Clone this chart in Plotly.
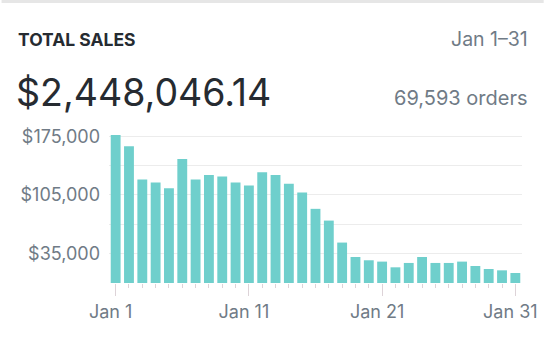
import plotly.graph_objects as go

days = list(range(1, 32))
sales = [176500, 163000, 123400, 119800, 113000, 147700, 123400, 128600, 127000, 119800,
         116200, 132100, 128600, 118200, 107900, 88400, 74400, 48200, 31000, 27100,
         25500, 18700, 23900, 31000, 23900, 23900, 25500, 20300, 16700, 15100, 11900]
y_tickvals = [0, 35000, 70000, 105000, 140000, 175000]
y_ticktext = ["", "$35,000", "", "$105,000", "", "$175,000"]
x_tickvals = [1, 11, 21, 31]
x_ticktext = ["Jan 1", "Jan 11", "Jan 21", "Jan 31"]

W, H = 550, 354
L, R, T, B = 109, 22, 132, 71
FONT = "Inter, 'Noto Sans', sans-serif"
DARK = "#262b31"
GRAY = "#707b86"


def px(x):
    return (x - L) / (W - L - R)


def py(y):
    return (H - B - y) / (H - T - B)


fig = go.Figure(go.Bar(x=days, y=sales, marker=dict(color="#6fcfcc", line=dict(width=0)),
                       width=0.74))

fig.update_layout(
    width=W, height=H, margin=dict(l=L, r=R, t=T, b=B),
    paper_bgcolor="white", plot_bgcolor="white", showlegend=False,
    font=dict(family=FONT, color=GRAY),
    xaxis=dict(range=[0.5, 31.5], tickvals=x_tickvals, ticktext=x_ticktext,
               ticks="outside", ticklen=12, tickwidth=1, tickcolor="#ddd3d8",
               minor=dict(tick0=1, dtick=1, ticks="outside", ticklen=4, tickcolor="#ddd3d8", tickwidth=1),
               showgrid=False, zeroline=False, showline=False, ticklabelshift=-5,
               tickfont=dict(size=18, color=GRAY, family=FONT)),
    yaxis=dict(range=[0, 180000], tickvals=y_tickvals, ticktext=y_ticktext,
               showgrid=True, gridcolor="#ececec", gridwidth=1, zeroline=False,
               ticks="", tickfont=dict(size=18, color=GRAY, family=FONT), ticklabelstandoff=8),
)

anns = [
    dict(text="<b>TOTAL SALES</b>", x=px(15), y=py(39.5), xanchor="left", size=17.5, color=DARK),
    dict(text="Jan 1–31", x=px(536), y=py(38.5), xanchor="right", size=19.5, color=GRAY),
    dict(text="$2,448,046.14", x=px(13), y=py(92.5), xanchor="left", size=37.5, color=DARK),
    dict(text="69,593 orders", x=px(536), y=py(97.5), xanchor="right", size=20, color=GRAY),
]
for a in anns:
    fig.add_annotation(text=a["text"], x=a["x"], y=a["y"], xref="paper", yref="paper",
                       xanchor=a["xanchor"], yanchor="middle", showarrow=False,
                       font=dict(size=a["size"], color=a["color"], family=FONT))

fig.add_shape(type="line", xref="paper", yref="paper", x0=px(0), x1=px(W), y0=py(1.5), y1=py(1.5),
              line=dict(color="#e6e6e6", width=3))

fig.write_html("out.html")
